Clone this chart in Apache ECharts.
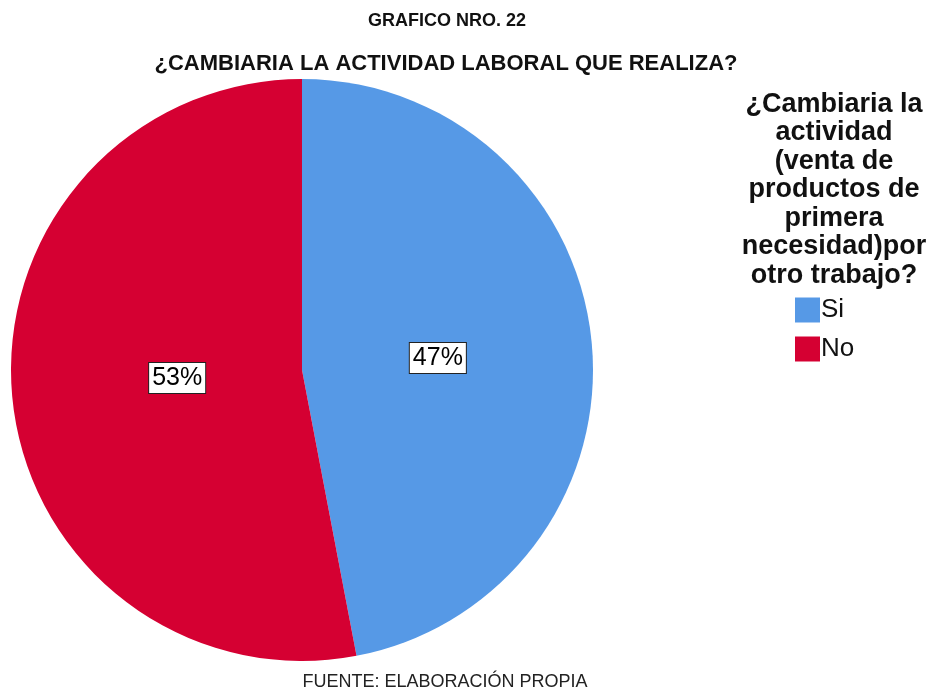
<!DOCTYPE html>
<html>
<head>
<meta charset="utf-8">
<script src="https://cdn.jsdelivr.net/npm/echarts@6/dist/echarts.min.js"></script>
<style>
  html, body { margin: 0; padding: 0; background: #fff; }
  #chart { width: 927px; height: 690px; }
</style>
</head>
<body>
<div id="chart"></div>
<script>
var categories = ['Si', 'No'];
var percents = [47, 53];
var sliceColors = ['#5699E6', '#D50032'];
// nudges so the boxed labels sit where the original put them
var labelOffsets = [[-12, 2], [23, -6]];

var chart = echarts.init(document.getElementById('chart'));

var slices = categories.map(function (name, i) {
  return {
    name: name,
    value: percents[i],
    itemStyle: { color: sliceColors[i] },
    label: { offset: labelOffsets[i] }
  };
});

chart.setOption({
  backgroundColor: '#ffffff',
  animation: false,
  title: [
    {
      text: 'GRAFICO NRO. 22',
      left: 442, top: 7, textAlign: 'center',
      textStyle: { fontFamily: 'Liberation Sans', fontWeight: 'bold', fontSize: 18, color: '#111' }
    },
    {
      text: '¿CAMBIARIA LA ACTIVIDAD LABORAL QUE REALIZA?',
      left: 441, top: 48, textAlign: 'center',
      textStyle: { fontFamily: 'Liberation Sans', fontWeight: 'bold', fontSize: 22, color: '#111' }
    },
    {
      text: '¿Cambiaria la\nactividad\n(venta de\nproductos de\nprimera\nnecesidad)por\notro trabajo?',
      left: 829, top: 85, textAlign: 'center',
      textStyle: { fontFamily: 'Liberation Sans', fontWeight: 'bold', fontSize: 27, lineHeight: 28.5, color: '#111' }
    },
    {
      text: 'FUENTE: ELABORACIÓN PROPIA',
      left: 440, top: 668, textAlign: 'center',
      textStyle: { fontFamily: 'Liberation Sans', fontWeight: 'normal', fontSize: 18, color: '#222' }
    }
  ],
  legend: {
    orient: 'vertical',
    left: 790, top: 292,
    itemWidth: 25, itemHeight: 25, itemGap: 13,
    icon: 'rect',
    data: categories,
    textStyle: { fontFamily: 'Liberation Sans', fontSize: 26, color: '#111', padding: [0, 0, 0, -4] }
  },
  series: [{
    type: 'pie',
    center: [302, 370],
    radius: 291,
    startAngle: 90,
    clockwise: true,
    data: slices,
    itemStyle: { borderWidth: 0 },
    label: {
      show: true,
      position: 'inside',
      formatter: '{c}%',
      fontFamily: 'Liberation Sans',
      fontSize: 25,
      color: '#000',
      backgroundColor: '#fff',
      borderColor: '#222',
      borderWidth: 1,
      padding: [3, 3, 2, 3]
    },
    labelLine: { show: false },
    emphasis: { disabled: true }
  }]
});
</script>
</body>
</html>
